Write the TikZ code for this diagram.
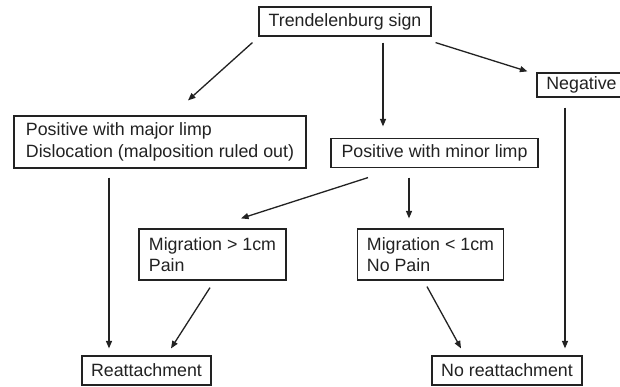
\documentclass[tikz,border=0pt]{standalone}
\usepackage{fontspec}
\setmainfont{Liberation Sans}
\usetikzlibrary{arrows.meta}
\definecolor{ink}{HTML}{222222}
\begin{document}
\begin{tikzpicture}[x=1pt,y=-1pt,
  box/.style={draw=ink, line width=1.2pt, inner sep=0pt, text=ink,
    font=\fontsize{17.8}{21.5}\selectfont},
  multibox/.style={box, align=left, inner xsep=9.5pt, inner ysep=0pt},
  arr/.style={draw=ink, line width=1.3pt, -{Triangle[length=7.5pt,width=6pt]}}]
\clip (0,0) rectangle (620,387);
\fill[white] (0,0) rectangle (620,387);
\node[box, minimum width=172pt, minimum height=29pt] (trend) at (345,21.5) {Trendelenburg sign};
\node[box, minimum width=89pt, minimum height=24pt] (neg) at (581.5,85) {Negative};
\node[multibox, minimum width=292pt, minimum height=52pt] (major) at (160,142) {Positive with major limp\\Dislocation (malposition ruled out)};
\node[box, minimum width=207pt, minimum height=29pt] (minor) at (434.5,153) {Positive with minor limp};
\node[multibox, minimum width=147pt, minimum height=51pt] (mig1) at (212.5,254.5) {Migration > 1cm\\Pain};
\node[multibox, minimum width=145pt, minimum height=51pt] (mig2) at (430.5,254.5) {Migration < 1cm\\No Pain};
\node[box, minimum width=129pt, minimum height=29pt] (reatt) at (146.5,370.5) {Reattachment};
\node[box, minimum width=150pt, minimum height=29pt] (noreatt) at (507,370.5) {No reattachment};

\draw[arr] ([shift={(-6,6)}]trend.south west) -- ([shift={(28,-15)}]major.north);
\draw[arr] ([shift={(38,6)}]trend.south) -- ([shift={(-51.5,-11.5)}]minor.north);
\draw[arr] ([shift={(4,6)}]trend.south east) -- ([shift={(-9,-1)}]neg.north west);
\draw[arr] ([shift={(-66.5,9.5)}]minor.south) -- ([shift={(28.5,-10)}]mig1.north);
\draw[arr] ([shift={(-25.5,9.5)}]minor.south) -- ([shift={(-21.5,-10)}]mig2.north);
\draw[arr] ([shift={(-51,9)}]major.south) -- ([shift={(-37.5,-7)}]reatt.north);
\draw[arr] ([shift={(-2.5,7)}]mig1.south) -- ([shift={(24.5,-7)}]reatt.north);
\draw[arr] ([shift={(-3.5,6)}]mig2.south) -- ([shift={(-46,-7)}]noreatt.north);
\draw[arr] ([shift={(-16.5,10)}]neg.south) -- ([shift={(58,-7)}]noreatt.north);
\end{tikzpicture}
\end{document}
